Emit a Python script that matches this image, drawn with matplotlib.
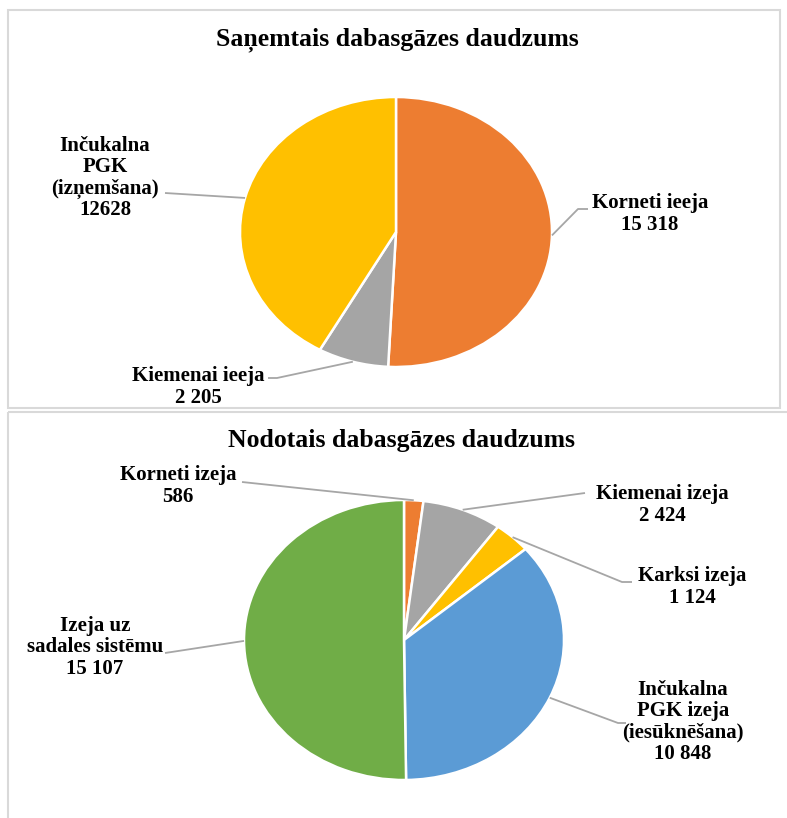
import matplotlib
matplotlib.use("Agg")
import numpy as np
import matplotlib.pyplot as plt
from matplotlib.patches import Rectangle

# Data
top_title = "Saņemtais dabasgāzes daudzums"
top_labels = ["Korneti ieeja", "Kiemenai ieeja", "Inčukalna\nPGK\n(izņemšana)"]
top_values = [15318, 2205, 12628]
top_value_text = ["15 318", "2 205", "12628"]

bot_title = "Nodotais dabasgāzes daudzums"
bot_labels = ["Korneti izeja", "Kiemenai izeja", "Karksi izeja",
              "Inčukalna\nPGK izeja\n(iesūknēšana)", "Izeja uz\nsadales sistēmu"]
bot_values = [586, 2424, 1124, 10848, 15107]
bot_value_text = ["586", "2 424", "1 124", "10 848", "15 107"]

top_colors = ["#ED7D31", "#A5A5A5", "#FFC000"]
bot_colors = ["#ED7D31", "#A5A5A5", "#FFC000", "#5B9BD5", "#70AD47"]

W, H = 787, 818
FONT = "Liberation Serif"

fig = plt.figure(figsize=(W / 100, H / 100), dpi=100)

# overlay in pixel coordinates for frames, titles, labels and leader lines
ov = fig.add_axes([0, 0, 1, 1], zorder=5)
ov.set_xlim(0, W)
ov.set_ylim(H, 0)
ov.axis("off")
ov.patch.set_alpha(0)


def pie_axes(left, top, width, height):
    ax = fig.add_axes([left / W, 1 - (top + height) / H, width / W, height / H])
    return ax


def draw_pie(ax, values, colors):
    ax.pie(values, colors=colors, startangle=90, counterclock=False, radius=1,
           wedgeprops=dict(edgecolor="white", linewidth=1.8))
    ax.set_xlim(-1, 1)
    ax.set_ylim(-1, 1)
    ax.set_aspect("auto")
    ax.axis("off")
    # mid-angle edge points, in overlay pixel coords
    vals = np.array(values, dtype=float)
    cum = np.cumsum(vals) - vals / 2
    ang = np.deg2rad(90 - 360 * cum / vals.sum())
    pts = np.column_stack([np.cos(ang), np.sin(ang)])
    disp = ax.transData.transform(pts)
    return ov.transData.inverted().transform(disp)


ax_top = pie_axes(240, 97, 312, 270)
ax_bot = pie_axes(244, 500, 320, 280)
top_pts = draw_pie(ax_top, top_values, top_colors)
bot_pts = draw_pie(ax_bot, bot_values, bot_colors)

# frames
ov.add_patch(Rectangle((8, 10), 772, 398, fill=False, edgecolor="#D9D9D9", lw=1.5))
ov.add_patch(Rectangle((8, 412), 790, 420, fill=False, edgecolor="#D9D9D9", lw=1.5))

# titles
ov.text(397, 40, top_title, ha="center", va="center", fontsize=18.5,
        fontweight="bold", family=FONT)
ov.text(401, 440, bot_title, ha="center", va="center", fontsize=18.5,
        fontweight="bold", family=FONT)

# label placement: (text center x, text center y, elbow point, horizontal end)
top_place = [
    (650, 214, (578, 209), (588, 209)),
    (198, 387, (277, 378), (268, 378)),
    (105, 178, (165, 193), (165, 193)),
]
bot_place = [
    (178, 486, (242, 482), (242, 482)),
    (662, 505, (585, 493), (585, 493)),
    (692, 587, (622, 582), (632, 582)),
    (683, 722, (618, 723), (626, 723)),
    (95, 647, (165, 653), (165, 653)),
]


def draw_labels(pts, labels, vtexts, place):
    for p, lab, vt, (tx, ty, elbow, end) in zip(pts, labels, vtexts, place):
        ov.text(tx, ty, lab + "\n" + vt, ha="center", va="center",
                fontsize=15, fontweight="bold", family=FONT, linespacing=1.1)
        ov.plot([p[0], elbow[0], end[0]], [p[1], elbow[1], end[1]],
                color="#A6A6A6", lw=1.3, solid_capstyle="butt")


draw_labels(top_pts, top_labels, top_value_text, top_place)
draw_labels(bot_pts, bot_labels, bot_value_text, bot_place)

fig.savefig("out.png", dpi=100, facecolor="white")
